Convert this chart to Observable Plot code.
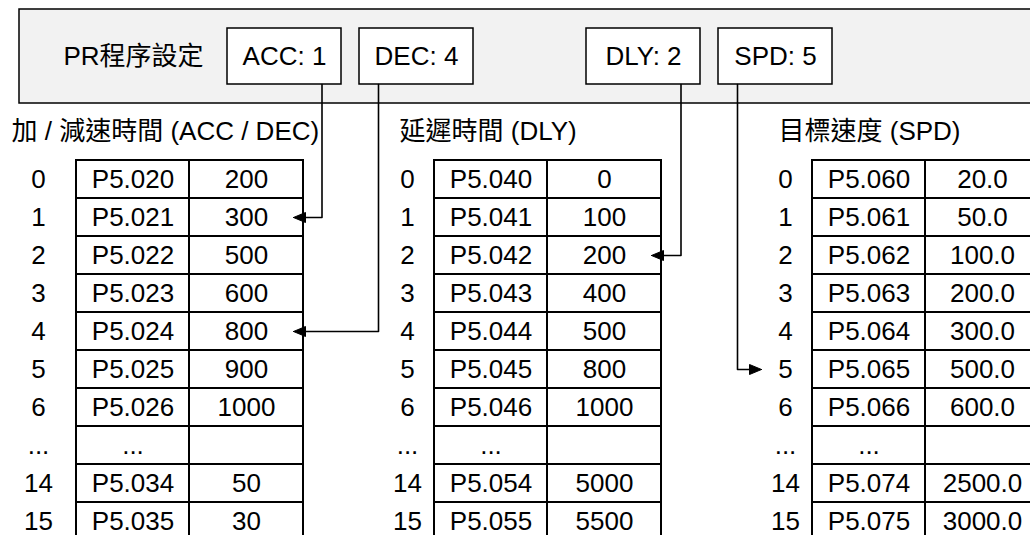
<!DOCTYPE html>
<html>
<head>
<meta charset="utf-8">
<script src="https://cdn.jsdelivr.net/npm/d3@7"></script>
<script src="https://cdn.jsdelivr.net/npm/@observablehq/plot@0.6"></script>
<style>
  html, body { margin: 0; padding: 0; background: #fff; overflow: hidden; }
  #chart { width: 1030px; height: 535px; overflow: hidden; }
  #chart svg { display: block; overflow: hidden; }
</style>
</head>
<body>
<div id="chart"></div>
<script>
// ---------- data ----------
const prTitle = "PR程序設定";
const settingNames = ["ACC", "DEC", "DLY", "SPD"];
const settingValues = [1, 4, 2, 5];
const settingTables = ["acc", "acc", "dly", "spd"];

const tableKeys = ["acc", "dly", "spd"];
const tableTitles = ["加 / 減速時間 (ACC / DEC)", "延遲時間 (DLY)", "目標速度 (SPD)"];
const rowIndexLabels = ["0", "1", "2", "3", "4", "5", "6", "...", "14", "15"];

const accParams = ["P5.020", "P5.021", "P5.022", "P5.023", "P5.024", "P5.025", "P5.026", "...", "P5.034", "P5.035"];
const accValues = ["200", "300", "500", "600", "800", "900", "1000", "", "50", "30"];
const dlyParams = ["P5.040", "P5.041", "P5.042", "P5.043", "P5.044", "P5.045", "P5.046", "...", "P5.054", "P5.055"];
const dlyValues = ["0", "100", "200", "400", "500", "800", "1000", "", "5000", "5500"];
const spdParams = ["P5.060", "P5.061", "P5.062", "P5.063", "P5.064", "P5.065", "P5.066", "...", "P5.074", "P5.075"];
const spdValues = ["20.0", "50.0", "100.0", "200.0", "300.0", "500.0", "600.0", "", "2500.0", "3000.0"];

const paramsByTable = {acc: accParams, dly: dlyParams, spd: spdParams};
const valuesByTable = {acc: accValues, dly: dlyValues, spd: spdValues};

// ---------- layout (pixels) ----------
const W = 1030, H = 535;
const panel = {x1: 19, x2: 1050, y1: 9, y2: 103};
const boxX1 = [227, 359, 586, 718];
const boxW = 114, boxY1 = 28, boxY2 = 84;
const prTitleX = 133;
const tableLayout = {
  acc: {titleX: 11, idxX: 38, x0: 76},
  dly: {titleX: 399, idxX: 407, x0: 434},
  spd: {titleX: 778, idxX: 785, x0: 812}
};
const titleY = 131;
const colW = [113, 114];
const rowTop = 160, rowH = 38;
// where each connector leaves its box (offset from box edge) and how it ends
const connectorSide = ["right", "left", "right", "left"];
const headLen = 12, headHalf = 5;

const fontFamily = "'Liberation Sans', Arial, 'Noto Sans CJK TC', 'Noto Sans CJK SC', sans-serif";

// ---------- derived mark data ----------
const settingBoxes = settingNames.map((n, i) => ({
  x1: boxX1[i], x2: boxX1[i] + boxW, y1: boxY1, y2: boxY2,
  label: `${n}: ${settingValues[i]}`
}));

const titles = tableKeys.map((k, i) => ({x: tableLayout[k].titleX, y: titleY, text: tableTitles[i]}));

const cells = [];
const cellTexts = [];
const idxTexts = [];
for (const k of tableKeys) {
  const t = tableLayout[k];
  rowIndexLabels.forEach((lab, r) => {
    const y1 = rowTop + r * rowH, y2 = y1 + rowH;
    const xa = t.x0, xb = t.x0 + colW[0], xc = xb + colW[1];
    cells.push({x1: xa, x2: xb, y1, y2});
    cells.push({x1: xb, x2: xc, y1, y2});
    cellTexts.push({x: (xa + xb) / 2, y: (y1 + y2) / 2, text: paramsByTable[k][r]});
    cellTexts.push({x: (xb + xc) / 2, y: (y1 + y2) / 2, text: valuesByTable[k][r]});
    idxTexts.push({x: t.idxX, y: (y1 + y2) / 2, text: lab});
  });
}

const connectors = [];
const heads = [];
settingNames.forEach((n, i) => {
  const b = settingBoxes[i];
  const k = settingTables[i];
  const t = tableLayout[k];
  const r = rowIndexLabels.indexOf(String(settingValues[i]));
  const yc = rowTop + r * rowH + rowH / 2;
  const lx = connectorSide[i] === "right" ? b.x2 - 19.5 : b.x1 + 19;
  let tipX, dir;
  if (k === "spd") { tipX = t.idxX - 24; dir = 1; }
  else { tipX = t.x0 + colW[0] + colW[1] - 10; dir = -1; }
  const baseX = tipX - dir * headLen;
  connectors.push({id: n, x: lx, y: b.y2}, {id: n, x: lx, y: yc}, {id: n, x: baseX, y: yc});
  heads.push(
    {id: n, x: tipX, y: yc},
    {id: n, x: baseX, y: yc - headHalf},
    {id: n, x: baseX, y: yc + headHalf},
    {id: n, x: tipX, y: yc}
  );
});

// ---------- plot ----------
const chart = Plot.plot({
  width: W,
  height: H,
  margin: 0,
  x: {domain: [0, W], range: [0, W], axis: null},
  y: {domain: [0, H], range: [0, H], axis: null},
  style: {fontFamily, background: "#fff", color: "#000"},
  marks: [
    Plot.rect([panel], {x1: "x1", x2: "x2", y1: "y1", y2: "y2", fill: "#f2f2f2", stroke: "#000", strokeWidth: 1.5}),
    Plot.rect(settingBoxes, {x1: "x1", x2: "x2", y1: "y1", y2: "y2", fill: "#fff", stroke: "#000", strokeWidth: 1.5}),
    Plot.text([{x: prTitleX, y: (boxY1 + boxY2) / 2, text: prTitle}], {x: "x", y: "y", text: "text", fontSize: 26, fill: "#000"}),
    Plot.text(settingBoxes, {x: d => (d.x1 + d.x2) / 2, y: d => (d.y1 + d.y2) / 2, text: "label", fontSize: 26, fill: "#000"}),
    Plot.text(titles, {x: "x", y: "y", text: "text", textAnchor: "start", fontSize: 26, fill: "#000"}),
    Plot.rect(cells, {x1: "x1", x2: "x2", y1: "y1", y2: "y2", fill: "#fff", stroke: "#000", strokeWidth: 2}),
    Plot.text(cellTexts, {x: "x", y: "y", text: "text", fontSize: 26, fill: "#000"}),
    Plot.text(idxTexts, {x: "x", y: "y", text: "text", fontSize: 26, fill: "#000"}),
    Plot.line(connectors, {x: "x", y: "y", z: "id", stroke: "#000", strokeWidth: 1.6, curve: "linear"}),
    Plot.line(heads, {x: "x", y: "y", z: "id", fill: "#000", stroke: "#000", strokeWidth: 1, curve: "linear"})
  ]
});
document.getElementById("chart").appendChild(chart);
</script>
</body>
</html>
